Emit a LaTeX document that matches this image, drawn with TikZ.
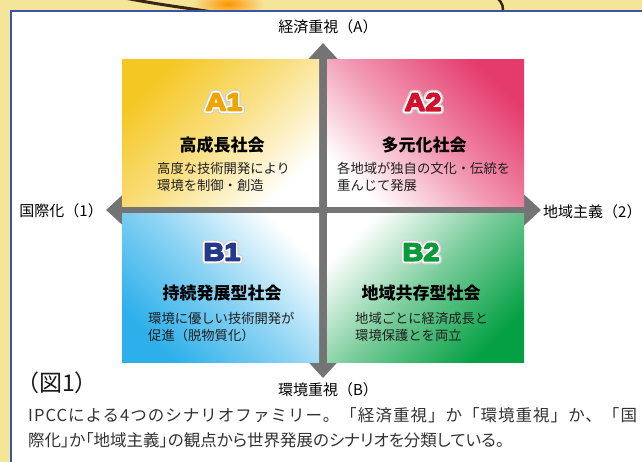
\documentclass[tikz,border=0pt]{standalone}
\usepackage{fontspec}
\setmainfont{Noto Sans CJK JP}
\newfontfamily\capfont{Noto Sans CJK JP}[RawFeature=+palt]
\newfontfamily\capwidefont{Noto Sans CJK JP}[LetterSpace=6.2]
\newfontfamily\logofont{Liberation Sans}[UprightFont={* Bold},FakeStretch=1.15]
\usetikzlibrary{arrows.meta}

\definecolor{axisgray}{HTML}{747474}
\definecolor{yelA}{HTML}{F5C722}
\definecolor{pinkA}{HTML}{E53A6C}
\definecolor{blueB}{HTML}{2CAFEA}
\definecolor{greenB}{HTML}{05A044}
\definecolor{logoA1}{HTML}{F0A400}
\definecolor{logoA2}{HTML}{D4102F}
\definecolor{logoB1}{HTML}{22398C}
\definecolor{logoB2}{HTML}{0A9A3C}
\definecolor{frameblue}{HTML}{3A55A6}
\definecolor{bgyellow}{HTML}{F5E598}
\definecolor{captext}{HTML}{333333}

% emblem lettering: grey halo, white rim and heavy coloured letters,
% stacked with stroked text (rendering mode 2)
\newcommand\strokedtext[2]{%
  \special{pdf:literal direct 2 Tr #1 w 1 j}#2\special{pdf:literal direct 0 Tr}}
\newcommand\emblem[2]{%
  \rlap{\color{black!18}\strokedtext{7.2}{#1}}%
  \rlap{\color{white}\strokedtext{4.8}{#1}}%
  {\color{#2}\strokedtext{1.6}{#1}}}

\begin{document}
\begin{tikzpicture}[x=1pt,y=-1pt,
  quad/.style={minimum width=197pt,minimum height=147pt,inner sep=0pt,anchor=north west},
  axisline/.style={draw=axisgray,line width=7.5pt,
    {Triangle[length=17pt,width=30pt]}-{Triangle[length=17pt,width=30pt]}},
  axislabel/.style={font=\fontsize{15}{18}\selectfont,inner sep=0pt,text=black},
  title/.style={font=\fontsize{17}{20}\selectfont\bfseries,inner sep=0pt},
  desc/.style={font=\fontsize{13.3}{17.5}\selectfont,align=left,anchor=west,inner sep=0pt,text=black!88},
  logotext/.style={font=\logofont\fontsize{25}{25}\selectfont,inner sep=0pt},
  caption/.style={font=\capfont\fontsize{16.5}{20}\selectfont,anchor=west,inner sep=0pt,text=captext},
]
\clip (0,0) rectangle (642,462);

% backdrop strip above and left of the panel
\fill[bgyellow] (0,0) rectangle (642,462);
\shade[inner color=orange!85!yellow,outer color=bgyellow] (228,4) ellipse (36 and 13);
\draw[line width=3pt,black!70!brown,line cap=round] (125,-2) .. controls (160,5) and (195,9) .. (225,14);
\draw[line width=2.5pt,black!70!brown] (497,-2) .. controls (503,3) and (504,8) .. (502,14);

% white panel with blue frame
\fill[white] (11,11) rectangle (660,480);
\draw[frameblue,line width=2.5pt] (660,11) -- (11,11) -- (11,480);

% axes
\coordinate (tipT) at (323,43);
\coordinate (tipB) at (323,378);
\coordinate (tipL) at (106,210);
\coordinate (tipR) at (541,210);
\draw[axisline] (tipL) -- (tipR);
\draw[axisline] (tipT) -- (tipB);

% quadrants
\node[quad,top color=yelA,bottom color=white,middle color=yelA!55!white,shading angle=45] (qa1) at (122,59) {};
\node[quad,top color=pinkA,bottom color=white,middle color=pinkA!55!white,shading angle=-45] (qa2) at (327,59) {};
\node[quad,top color=white,bottom color=blueB,middle color=blueB!55!white,shading angle=-45,minimum height=149pt] (qb1) at (122,213) {};
\node[quad,top color=white,bottom color=greenB,middle color=greenB!55!white,shading angle=45,minimum height=149pt] (qb2) at (327,213) {};

% axis labels
\node[axislabel] (labT) at (328,27) {経済重視（A）};
\node[axislabel] (labB) at (328,390) {環境重視（B）};
\node[axislabel,anchor=east] (labL) at (103,211) {国際化（1）};
\node[axislabel,anchor=west] (labR) at (543,212) {地域主義（2）};

% emblems
\node[logotext] (logoa1) at (224,102) {\emblem{A1}{logoA1}};
\node[logotext] (logoa2) at (423,102) {\emblem{A2}{logoA2}};
\node[logotext] (logob1) at (222,252) {\emblem{B1}{logoB1}};
\node[logotext] (logob2) at (421,252) {\emblem{B2}{logoB2}};

% titles
\node[title] (ta1) at (222,145) {高成長社会};
\node[title] (ta2) at (424,145) {多元化社会};
\node[title] (tb1) at (222,293) {持続発展型社会};
\node[title] (tb2) at (421,293) {地域共存型社会};

% descriptions
\node[desc] (da1) at (157,177) {高度な技術開発により\\環境を制御・創造};
\node[desc] (da2) at (337,177) {各地域が独自の文化・伝統を\\重んじて発展};
\node[desc] (db1) at (148,327) {環境に優しい技術開発が\\促進（脱物質化）};
\node[desc] (db2) at (355,327) {地域ごとに経済成長と\\環境保護とを両立};

% caption
\node[caption,font=\fontsize{23}{25}\selectfont,text=black!90] (fig) at (16,383) {（図1）};
\node[caption,font=\capwidefont\fontsize{16.5}{20}\selectfont] (cap1) at (28,415) {IPCCによる4つのシナリオファミリー。「経済重視」か「環境重視」か、「国};
\node[caption] (cap2) at (28,440) {際化」か「地域主義」の観点から世界発展のシナリオを分類している。};
\end{tikzpicture}
\end{document}
